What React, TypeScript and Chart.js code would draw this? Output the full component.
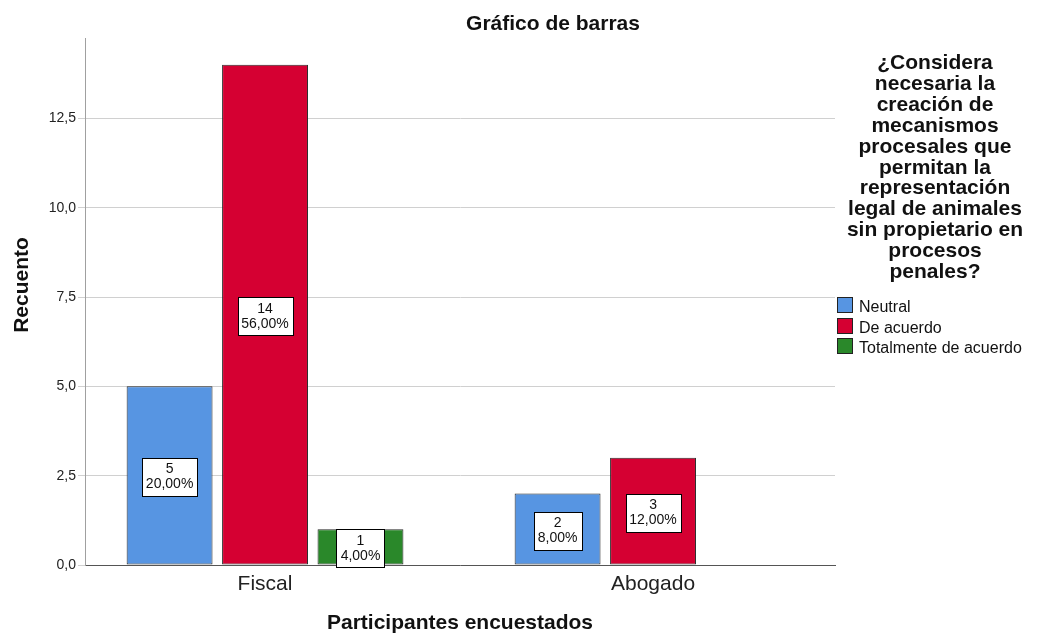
import React, { useEffect, useRef } from 'react';
import { Chart, registerables } from 'chart.js';

Chart.register(...registerables);

const categories = ['Fiscal', 'Abogado'];
const seriesNames = ['Neutral', 'De acuerdo', 'Totalmente de acuerdo'];
const neutralValues: (number | null)[] = [5, 2];
const deAcuerdoValues: (number | null)[] = [14, 3];
const totalmenteValues: (number | null)[] = [1, null];
const seriesColors = ['#5795E2', '#D50032', '#2A882A'];
const yTickValues = [0, 2.5, 5, 7.5, 10, 12.5];
const chartTitle = 'Gráfico de barras';
const xTitle = 'Participantes encuestados';
const yTitle = 'Recuento';
const legendTitle = [
  '¿Considera',
  'necesaria la',
  'creación de',
  'mecanismos',
  'procesales que',
  'permitan la',
  'representación',
  'legal de animales',
  'sin propietario en',
  'procesos',
  'penales?',
];

const FONT = '"Liberation Sans", Arial, sans-serif';

const allSeries = [neutralValues, deAcuerdoValues, totalmenteValues];
const grandTotal = allSeries.reduce(
  (s, arr) => s + arr.reduce((a: number, v) => a + (v ?? 0), 0),
  0
);

const toPoints = (vals: (number | null)[]) =>
  vals
    .map((v, i) => (v == null ? null : { x: i, y: v }))
    .filter((p) => p !== null) as { x: number; y: number }[];

const labelPlugin = {
  id: 'barLabels',
  afterDatasetsDraw(chart: any) {
    const ctx = chart.ctx;
    ctx.save();
    ctx.font = `14px ${FONT}`;
    chart.data.datasets.forEach((ds: any, di: number) => {
      const meta = chart.getDatasetMeta(di);
      meta.data.forEach((bar: any, i: number) => {
        const v = ds.data[i].y as number;
        const l1 = String(v);
        const l2 = ((v / grandTotal) * 100).toFixed(2).replace('.', ',') + '%';
        const w = Math.round(Math.max(ctx.measureText(l1).width, ctx.measureText(l2).width) + 8);
        const h = 38;
        const { x, y, base } = bar.getProps(['x', 'y', 'base'], true);
        const cx = x;
        const cy = (y + base) / 2 + 1.5;
        const bx = Math.round(cx - w / 2) + 0.5;
        const by = Math.round(cy - h / 2) + 0.5;
        ctx.fillStyle = '#ffffff';
        ctx.fillRect(bx, by, w, h);
        ctx.strokeStyle = '#000000';
        ctx.lineWidth = 1;
        ctx.strokeRect(bx, by, w, h);
        ctx.fillStyle = '#111111';
        ctx.textAlign = 'center';
        ctx.textBaseline = 'middle';
        ctx.fillText(l1, cx, cy - 7.5);
        ctx.fillText(l2, cx, cy + 7.5);
      });
    });
    ctx.restore();
  },
};

const decorPlugin = {
  id: 'decor',
  afterDraw(chart: any) {
    const ctx = chart.ctx;
    const area = chart.chartArea;
    ctx.save();
    ctx.fillStyle = '#111111';
    ctx.font = `bold 21px ${FONT}`;
    ctx.textAlign = 'center';
    ctx.textBaseline = 'alphabetic';
    ctx.fillText(chartTitle, 553, 30);

    ctx.save();
    ctx.translate(22, 285);
    ctx.rotate(-Math.PI / 2);
    ctx.textBaseline = 'middle';
    ctx.fillText(yTitle, 0, 0);
    ctx.restore();

    const lx = 935;
    ctx.font = `bold 21px ${FONT}`;
    ctx.textAlign = 'center';
    ctx.textBaseline = 'alphabetic';
    legendTitle.forEach((line, i) => {
      ctx.fillText(line, lx, 69 + i * 20.9);
    });

    ctx.font = `16px ${FONT}`;
    ctx.textAlign = 'left';
    seriesNames.forEach((name, i) => {
      const top = 297 + i * 20.7;
      const bx = area.right + 2.5;
      ctx.fillStyle = seriesColors[i];
      ctx.fillRect(bx, Math.round(top) + 0.5, 15, 15);
      ctx.strokeStyle = '#222222';
      ctx.lineWidth = 1;
      ctx.strokeRect(bx, Math.round(top) + 0.5, 15, 15);
      ctx.fillStyle = '#111111';
      ctx.textBaseline = 'alphabetic';
      ctx.fillText(name, bx + 21.5, top + 15);
    });
    ctx.restore();
  },
};

export default function App() {
  const canvasRef = useRef<HTMLCanvasElement | null>(null);

  useEffect(() => {
    if (!canvasRef.current) return;
    Chart.defaults.font.family = FONT;
    const chart = new Chart(canvasRef.current, {
      type: 'bar',
      data: {
        datasets: allSeries.map((vals, i) => ({
          label: seriesNames[i],
          data: toPoints(vals),
          backgroundColor: seriesColors[i],
          borderColor: '#2a2a2a',
          borderWidth: 1,
          borderSkipped: false,
          categoryPercentage: 0.738,
          barPercentage: 0.9,
        })),
      } as any,
      options: {
        responsive: false,
        animation: false,
        layout: { padding: { top: 38, right: 208, left: 0, bottom: 0 } },
        plugins: {
          legend: { display: false },
          title: { display: false },
          tooltip: { enabled: false },
        },
        scales: {
          x: {
            type: 'linear',
            min: -0.464,
            max: 1.469,
            offset: false,
            grid: { display: false, drawTicks: false },
            border: { display: true, color: '#555555', width: 1 },
            ticks: {
              padding: 7,
              autoSkip: false,
              maxRotation: 0,
              color: '#222222',
              font: { size: 21, family: FONT },
              callback: (v: any) => categories[Number(v)] ?? '',
            },
            afterBuildTicks: (s: any) => {
              s.ticks = categories.map((_, i) => ({ value: i }));
            },
            afterFit: (s: any) => {
              s.height = 74;
            },
            title: {
              display: true,
              text: xTitle,
              color: '#111111',
              font: { size: 21, weight: 'bold', family: FONT },
              padding: { top: 0, bottom: 3.4 },
            },
          },
          y: {
            type: 'linear',
            min: 0,
            max: 14.75,
            grid: { color: '#d0d0d0', tickLength: 7, lineWidth: 1 },
            border: { display: true, color: '#a0a0a0', width: 1 },
            ticks: {
              padding: 2,
              color: '#222222',
              font: { size: 14, family: FONT },
              callback: (v: any) => Number(v).toFixed(1).replace('.', ','),
            },
            afterBuildTicks: (s: any) => {
              s.ticks = yTickValues.map((v) => ({ value: v }));
            },
            afterFit: (s: any) => {
              s.width = 85;
            },
          },
        },
      } as any,
      plugins: [labelPlugin, decorPlugin],
    });
    return () => chart.destroy();
  }, []);

  return (
    <div style={{ position: 'absolute', left: 0, top: 0, width: 1043, height: 639, background: '#ffffff' }}>
      <canvas ref={canvasRef} width={1043} height={639} style={{ display: 'block' }} />
    </div>
  );
}
